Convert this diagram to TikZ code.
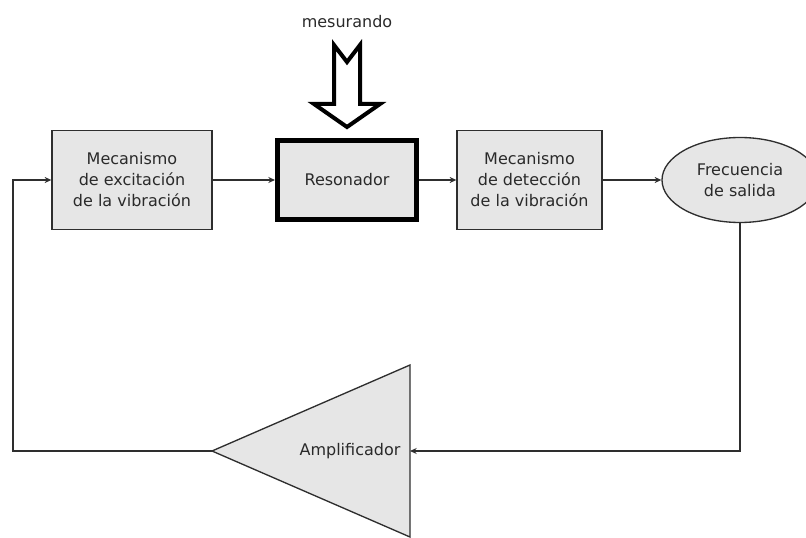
\documentclass[tikz,border=0pt]{standalone}
\usepackage{fontspec}
\setmainfont{DejaVu Sans}
\usetikzlibrary{arrows.meta,shapes.geometric}
\definecolor{boxfill}{HTML}{E6E6E6}
\definecolor{linec}{HTML}{2E2E2E}
\definecolor{textc}{HTML}{2A2A2A}
\begin{document}
\begin{tikzpicture}[x=0.75pt,y=-0.75pt,
  every node/.style={text=textc,font=\fontsize{12pt}{15.75pt}\selectfont,align=center,inner sep=0pt},
  blk/.style={draw=linec,fill=boxfill,line width=1pt,minimum height=74.25pt},
  conn/.style={draw=linec,line width=1pt,-{Stealth[length=5pt,width=4.5pt]}},
  wire/.style={draw=linec,line width=1pt}]
\useasboundingbox (0,0) rectangle (806,538);
\clip (0,0) rectangle (806,538);
% blocks
\node[blk,minimum width=120pt] (exc) at (132,180) {Mecanismo\\de excitación\\de la vibración};
\node[draw=black,fill=boxfill,line width=3.75pt,minimum width=104.25pt,minimum height=59.25pt] (res) at (347,180) {Resonador};
\node[blk,minimum width=108.75pt] (det) at (529.5,180) {Mecanismo\\de detección\\de la vibración};
\node[ellipse,draw=linec,fill=boxfill,line width=1pt,minimum width=117pt,minimum height=63.75pt] (freq) at (740,180) {Frecuencia\\de salida};
% amplifier
\coordinate (ampin) at (410,451);
\coordinate (ampout) at (212,451);
\draw[draw=linec,fill=boxfill,line width=1pt] (ampout) -- (410,365) -- (410,537) -- cycle;
\node (amp) at (350,451) {Amplificador};
% measurand
\node (mes) at (347,22) {mesurando};
\draw[draw=black,fill=white,line width=3pt,miter limit=10]
  (334,45) -- (347,62) -- (360,45) -- (360,104) -- (380,104) -- (347,127) -- (314,104) -- (334,104) -- cycle;
% connectors
\draw[conn] (exc.east) -- (res.west);
\draw[conn] (res.east) -- (det.west);
\draw[conn] (det.east) -- (freq.west);
\draw[conn] (freq.south) |- (ampin);
\coordinate (fbc) at (13,451);
\draw[conn] (ampout) -- (fbc) |- (exc.west);
\end{tikzpicture}
\end{document}
